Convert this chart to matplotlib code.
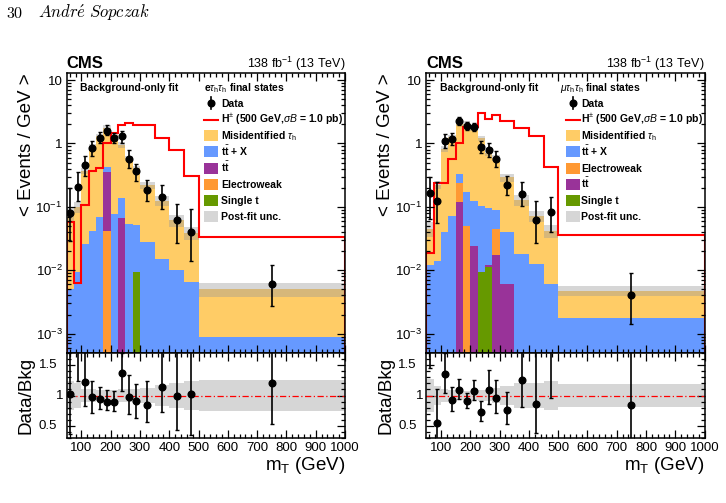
import numpy as np
import matplotlib
matplotlib.use("Agg")
import matplotlib.pyplot as plt
from matplotlib.patches import Rectangle
from matplotlib.ticker import MultipleLocator, LogLocator, FixedLocator, FuncFormatter, NullFormatter
from matplotlib.transforms import blended_transform_factory

plt.rcParams['font.family'] = ['Liberation Sans', 'DejaVu Sans']
plt.rcParams['mathtext.fontset'] = 'custom'
plt.rcParams['mathtext.rm'] = 'Liberation Sans'
plt.rcParams['mathtext.it'] = 'Liberation Sans:italic'
plt.rcParams['mathtext.bf'] = 'Liberation Sans:bold'
plt.rcParams['axes.linewidth'] = 1.1

# bin edges in mT (GeV)
edges = np.array([50, 75, 100, 125, 150, 175, 200, 225, 250, 275, 300, 350, 400, 450, 500, 1000])

# e tau_h tau_h channel (left)
e_data = np.array([0.081, 0.206, 0.451, 0.855, 1.23, 1.60, 1.21, 1.30, 0.567, 0.367, 0.185, 0.142, 0.061, 0.040, 0.0061])
e_data_lo = np.array([0.029, 0.124, 0.307, 0.63, 1.02, 1.35, 1.02, 1.02, 0.41, 0.256, 0.124, 0.092, 0.027, 0.014, 0.0027])
e_data_hi = np.array([0.20, 0.35, 0.63, 1.09, 1.50, 1.94, 1.47, 1.60, 0.78, 0.48, 0.27, 0.22, 0.11, 0.093, 0.012])
e_misid = [0.074, 0.091, 0.342, 0.841, 1.24, 1.36, 1.283, 0.808, 0.533, 0.354, 0.190, 0.110, 0.051, 0.0325, 0.0042]
e_ttx = [0.0051, 0.0093, 0.026, 0.042, 0.070, 0.070, 0.077, 0.071, 0.053, 0.043, 0.0276, 0.0151, 0.0101, 0.0065, 0.00089]
e_tt = [0, 0, 0, 0, 0, 0.308, 0, 0.0656, 0, 0, 0, 0, 0, 0, 0]
e_ew = [0, 0, 0, 0, 0, 0.042, 0, 0, 0, 0, 0, 0, 0, 0, 0]
e_st = [0, 0, 0, 0, 0, 0, 0, 0, 0, 0.0093, 0, 0, 0, 0, 0]
e_sig = [0.057, 0.0063, 0.107, 0.367, 0.41, 1.02, 1.45, 1.99, 2.11, 1.94, 1.94, 1.22, 0.78, 0.31, 0.033]
e_unc = np.array([0.24, 0.20, 0.10, 0.10, 0.09, 0.09, 0.09, 0.10, 0.10, 0.10, 0.13, 0.17, 0.20, 0.24, 0.25])

# mu tau_h tau_h channel (right)
m_data = np.array([0.164, 0.123, 1.11, 1.18, 2.24, 1.89, 1.80, 0.886, 0.776, 0.574, 0.224, 0.162, 0.0617, 0.082, 0.0040])
m_data_lo = np.array([0.065, 0.055, 0.85, 0.94, 1.94, 1.65, 1.55, 0.70, 0.61, 0.43, 0.155, 0.105, 0.027, 0.040, 0.0014])
m_data_hi = np.array([0.30, 0.245, 1.40, 1.45, 2.60, 2.15, 2.10, 1.10, 1.00, 0.75, 0.31, 0.245, 0.125, 0.145, 0.0092])
m_misid = [0.033, 0.208, 0.782, 1.198, 1.706, 1.888, 1.555, 1.105, 0.612, 0.509, 0.2515, 0.111, 0.0586, 0.0359, 0.00301]
m_ttx = [0.012, 0.014, 0.040, 0.072, 0.096, 0.123, 0.100, 0.095, 0.083, 0.043, 0.0334, 0.018, 0.0126, 0.0061, 0.00176]
m_ew = [0, 0, 0, 0, 0.12, 0.049, 0, 0, 0, 0.027, 0, 0, 0, 0, 0]
m_tt = [0, 0, 0, 0, 0.118, 0, 0.0244, 0, 0.0006, 0.0176, 0.0061, 0, 0, 0, 0]
m_st = [0, 0, 0, 0, 0, 0, 0, 0.0095, 0.0114, 0, 0, 0, 0, 0, 0]
m_sig = [0.019, 0.24, 0.24, 0.56, 1.0, 1.8, 1.8, 3.0, 2.4, 2.8, 2.25, 1.76, 1.3, 0.43, 0.036]
m_unc = np.array([0.27, 0.15, 0.10, 0.09, 0.08, 0.08, 0.08, 0.09, 0.09, 0.12, 0.15, 0.20, 0.20, 0.24, 0.19])

ratio_ticks = [0.5, 1, 1.5]
ratio_ticklabels = ['0.5', '1', '1.5']

c_misid = '#ffcc66'
c_ttx = '#6699ff'
c_tt = '#993399'
c_ew = '#ff9933'
c_st = '#669900'
c_unc = '#999999'
a_unc = 0.4

lab_misid = r'Misidentified $\tau_{\rm h}$'
lab_ttx = r't$\bar{\mathbf{t}}$ + X'
lab_tt = r't$\bar{\mathbf{t}}$'
lab_sig = r'H$^{\pm}$ (500 GeV,$\sigma\mathit{B}$ = 1.0 pb)'

fig = plt.figure(figsize=(7.26, 5.03), dpi=100)

fig.text(6 / 726, 1 - 18.3 / 503, r'$30$', math_fontfamily='cm', fontsize=11.5, va='baseline')
fig.text(38 / 726, 1 - 18.3 / 503, r'$\mathit{Andr\acute{e}\ Sopczak}$', math_fontfamily='cm',
         fontsize=12, va='baseline')


def log_label(v, pos):
    n = int(round(np.log10(v)))
    if n == 0:
        return '1'
    if n == 1:
        return '10'
    return r'$\mathdefault{10^{%d}}$' % n


def panel(x0, data, d_lo, d_hi, stack, sig, unc, chan, legend):
    ax = fig.add_axes([x0, 0.2988, 0.3834, 0.5555])
    axr = fig.add_axes([x0, 0.1286, 0.3834, 0.1702])
    centers = 0.5 * (edges[1:] + edges[:-1])

    # stacked backgrounds, bottom to top
    bottom = np.full(len(centers), 1e-6)
    for vals, col in stack:
        top = bottom + np.array(vals)
        ax.stairs(top, edges, baseline=bottom, fill=True, color=col, lw=0)
        bottom = top
    total = bottom
    ax.stairs(total * (1 + unc), edges, baseline=total * (1 - unc), fill=True,
              color=c_unc, alpha=a_unc, lw=0)
    ax.stairs(sig, edges, color='#ff0000', lw=1.5)
    ax.errorbar(centers, data, yerr=[data - d_lo, d_hi - data], fmt='o', color='k',
                ms=4.8, elinewidth=1.2, capsize=1.3, capthick=1.0)

    ax.set_xlim(50, 1000)
    ax.set_yscale('log')
    ax.set_ylim(5e-4, 12.8)
    ax.xaxis.set_major_locator(MultipleLocator(100))
    ax.xaxis.set_minor_locator(MultipleLocator(20))
    ax.yaxis.set_major_locator(LogLocator(base=10))
    ax.yaxis.set_minor_locator(LogLocator(base=10, subs=np.arange(2, 10)))
    ax.yaxis.set_major_formatter(FuncFormatter(log_label))
    ax.yaxis.set_minor_formatter(NullFormatter())
    ax.tick_params(which='both', direction='in', top=True, right=True, labelbottom=False,
                   labelsize=9.5, width=0.9, pad=3)
    ax.tick_params(which='major', length=6)
    ax.tick_params(which='minor', length=3)
    ax.set_ylabel('< Events / GeV >', loc='top', fontsize=13.5)
    ax.yaxis.set_label_coords(-0.115, 1.0)

    ax.text(0, 1.019, 'CMS', transform=ax.transAxes, fontsize=12, weight='bold', va='baseline')
    ax.text(1, 1.019, r'138 fb$^{-1}$ (13 TeV)', transform=ax.transAxes, fontsize=9,
            ha='right', va='baseline')
    ax.text(0.049, 0.937, 'Background-only fit', transform=ax.transAxes, fontsize=7.5,
            weight='bold', va='baseline')

    # legend
    hx, bx, tx = legend['x']
    ax.text(hx, 0.937, chan, transform=ax.transAxes, fontsize=7.5, weight='bold', va='baseline')
    bw, bh = 0.0503, 0.0394
    y0, dy = 0.8926, 0.058
    for i, (kind, label, col) in enumerate(legend['entries']):
        yc = y0 - i * dy
        if kind == 'data':
            xc = bx + bw / 2
            ax.plot([xc, xc], [yc - 0.022, yc + 0.022], color='k', lw=1.2, transform=ax.transAxes)
            ax.plot([xc], [yc], 'o', color='k', ms=4.8, transform=ax.transAxes)
        elif kind == 'line':
            ax.plot([bx, bx + bw], [yc, yc], color=col, lw=1.5, transform=ax.transAxes)
        else:
            alpha = a_unc if kind == 'unc' else 1.0
            ax.add_patch(Rectangle((bx, yc - bh / 2), bw, bh, transform=ax.transAxes,
                                   facecolor=col, edgecolor='none', alpha=alpha))
        ax.text(tx, yc - 0.0132, label, transform=ax.transAxes, fontsize=7.5,
                weight='bold', va='baseline')

    # ratio panel
    ratio = data / total
    axr.stairs(1 + unc, edges, baseline=1 - unc, fill=True, color=c_unc, alpha=a_unc, lw=0)
    axr.axhline(1, color='#ff0000', lw=0.9, ls=(0, (5, 2, 1, 2)))
    axr.errorbar(centers, ratio, yerr=[(data - d_lo) / total, (d_hi - data) / total], fmt='o',
                 color='k', ms=4.8, elinewidth=1.2, capsize=1.3, capthick=1.0)
    axr.set_xlim(50, 1000)
    axr.set_ylim(0.3, 1.7)
    axr.xaxis.set_major_locator(MultipleLocator(100))
    axr.xaxis.set_minor_locator(MultipleLocator(20))
    axr.yaxis.set_major_locator(FixedLocator(ratio_ticks))
    axr.yaxis.set_minor_locator(MultipleLocator(0.1))
    axr.tick_params(which='both', direction='in', top=True, right=True, labelleft=False,
                    labelsize=9.5, width=0.9, pad=3)
    axr.tick_params(which='major', length=6)
    axr.tick_params(which='minor', length=3)
    trans = blended_transform_factory(axr.transAxes, axr.transData)
    for v, s in zip(ratio_ticks, ratio_ticklabels):
        xr = -0.012 if s == '1' else -0.035
        axr.text(xr, v, s, transform=trans, ha='right', va='center', fontsize=9.5)
    axr.set_ylabel('Data/Bkg', fontsize=13.5)
    axr.yaxis.set_label_coords(-0.115, 0.5)
    axr.set_xlabel(r'm$_{\rm T}$ (GeV)', loc='right', fontsize=13.5)
    axr.xaxis.set_label_coords(1.0, -0.2)
    return ax, axr


panel(0.0919, e_data, e_data_lo, e_data_hi,
      [(e_st, c_st), (e_ew, c_ew), (e_tt, c_tt), (e_ttx, c_ttx), (e_misid, c_misid)],
      e_sig, e_unc, r'e$\tau_{\rm h}\tau_{\rm h}$ final states',
      {'x': (0.494, 0.494, 0.556),
       'entries': [('data', 'Data', 'k'), ('line', lab_sig, '#ff0000'),
                   ('box', lab_misid, c_misid), ('box', lab_ttx, c_ttx), ('box', lab_tt, c_tt),
                   ('box', 'Electroweak', c_ew), ('box', 'Single t', c_st),
                   ('unc', 'Post-fit unc.', c_unc)]})

panel(0.5872, m_data, m_data_lo, m_data_hi,
      [(m_st, c_st), (m_tt, c_tt), (m_ew, c_ew), (m_ttx, c_ttx), (m_misid, c_misid)],
      m_sig, m_unc, r'$\mu\tau_{\rm h}\tau_{\rm h}$ final states',
      {'x': (0.479, 0.5007, 0.557),
       'entries': [('data', 'Data', 'k'), ('line', lab_sig, '#ff0000'),
                   ('box', lab_misid, c_misid), ('box', lab_ttx, c_ttx),
                   ('box', 'Electroweak', c_ew), ('box', lab_tt, c_tt),
                   ('box', 'Single t', c_st), ('unc', 'Post-fit unc.', c_unc)]})

fig.savefig('out.png', dpi=100)
